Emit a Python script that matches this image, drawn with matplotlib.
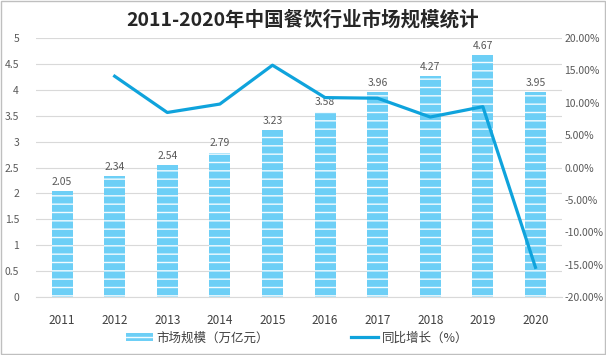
import matplotlib.pyplot as plt
import matplotlib.ticker as mticker
from matplotlib.lines import Line2D
from matplotlib.patches import Patch

plt.rcParams['font.family'] = ['Noto Sans CJK SC', 'DejaVu Sans']
plt.rcParams['hatch.linewidth'] = 1.0

years      = ['2011', '2012', '2013', '2014', '2015',
              '2016', '2017', '2018', '2019', '2020']
market     = [2.05, 2.34, 2.54, 2.79, 3.23, 3.58, 3.96, 4.27, 4.67, 3.95]
growth_yrs = years[1:]
growth     = [14.1, 8.5, 9.8, 15.8, 10.8, 10.7, 7.8, 9.4, -15.4]

bar_color  = '#6DCFF6'
line_color = '#0FA3DC'
tick_color = '#595959'

fig = plt.figure(figsize=(6.06, 3.55), dpi=100)
ax = fig.add_axes([0.059, 0.163, 0.868, 0.730])

x = list(range(len(years)))
ax.bar(x, market, width=0.4, color=bar_color, hatch='--',
       edgecolor='#F2FBFF', linewidth=0, zorder=2)
for xi, v in zip(x, market):
    ax.text(xi, v + 0.08, '{:.2f}'.format(v), ha='center', va='bottom',
            fontsize=7.5, color=tick_color)

ax.set_ylim(0, 5)
ax.set_xlim(-0.5, len(years) - 0.5)
ax.set_yticks([i * 0.5 for i in range(11)])
ax.yaxis.set_major_formatter(mticker.FuncFormatter(
    lambda v, p: '{:g}'.format(v)))
ax.set_xticks(x)
ax.set_xticklabels(years)
ax.grid(axis='y', color='#D9D9D9', linewidth=0.8, zorder=0)
ax.set_axisbelow(True)
for s in ['top', 'left', 'right']:
    ax.spines[s].set_visible(False)
ax.spines['bottom'].set_color('#D9D9D9')
ax.tick_params(axis='y', length=0, labelsize=7.5, colors=tick_color, pad=12)
ax.tick_params(axis='x', length=0, labelsize=8.5, colors='#404040', pad=12)

ax2 = ax.twinx()
gx = [years.index(y) for y in growth_yrs]
ax2.plot(gx, growth, color=line_color, linewidth=2.3, zorder=3)
ax2.set_ylim(-20, 20)
ax2.set_yticks(range(-20, 21, 5))
ax2.yaxis.set_major_formatter(mticker.FuncFormatter(
    lambda v, p: '{:.2f}%'.format(v)))
for s in ['top', 'left', 'right', 'bottom']:
    ax2.spines[s].set_visible(False)
ax2.tick_params(axis='y', length=0, labelsize=7.5, colors=tick_color, pad=2)

fig.text(0.5, 0.945, '2011-2020年中国餐饮行业市场规模统计', ha='center',
         va='center', fontsize=14, fontweight='bold', color='#262626')

handles = [Patch(facecolor=bar_color, hatch='--', edgecolor='#F2FBFF',
                 linewidth=0),
           Line2D([0], [0], color=line_color, linewidth=2.3)]
fig.legend(handles, ['市场规模（万亿元）', '同比增长（%）'], loc='center',
           bbox_to_anchor=(0.49, 0.048), ncol=2, frameon=False,
           fontsize=9, handlelength=2.2, handletextpad=0.3,
           columnspacing=6.5, labelcolor='#404040')

fig.patches.append(plt.Rectangle((0.001, 0.002), 0.997, 0.995,
                                 transform=fig.transFigure, fill=False,
                                 edgecolor='#BFBFBF', linewidth=1))

fig.savefig('out.png', dpi=100)
